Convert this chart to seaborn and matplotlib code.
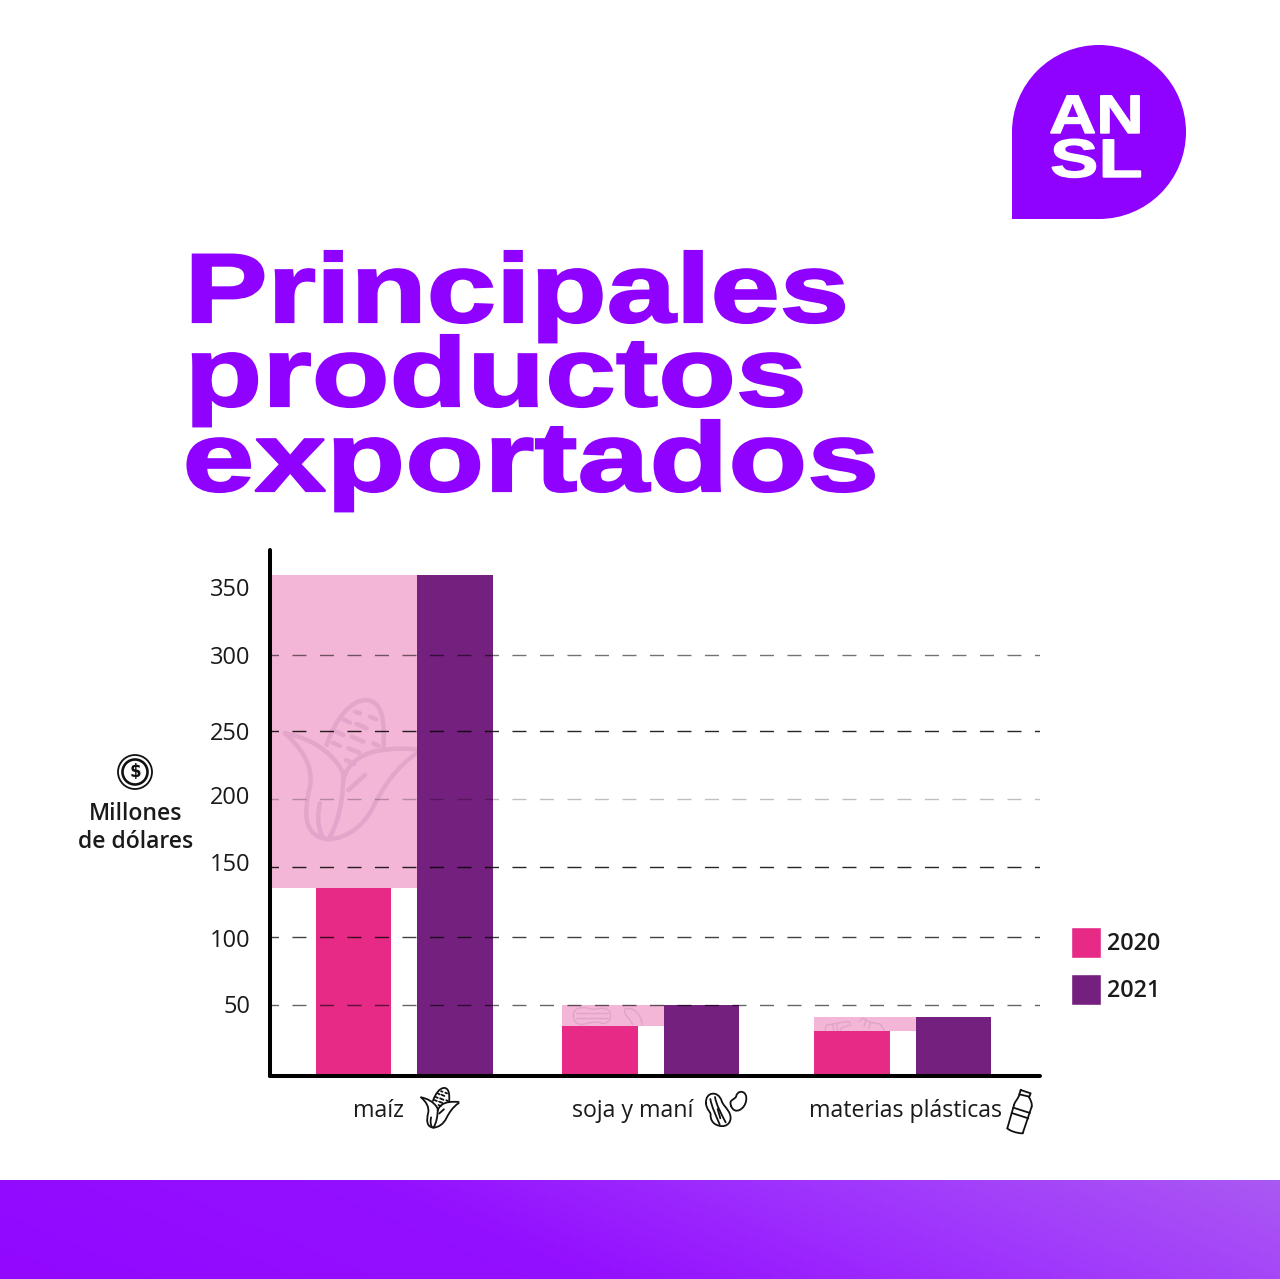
import matplotlib
matplotlib.use("Agg")
import matplotlib.pyplot as plt
import matplotlib.patheffects as pe
from matplotlib.colors import LinearSegmentedColormap
from matplotlib.patches import Circle, PathPatch, Rectangle
from matplotlib.path import Path
from matplotlib.transforms import Affine2D
import numpy as np
import pandas as pd
import seaborn as sns

categories = ["maíz", "soja y maní", "materias plásticas"]
values_2020 = [134, 35.6, 32]
values_2021 = [357, 50.6, 42]
years = ["2020", "2021"]
tick_values = [51.3, 98.5, 152.5, 200, 246, 300, 348.5]
tick_labels = ["50", "100", "150", "200", "250", "300", "350"]
grid_values = [50.7, 99, 149, 197.4, 246, 300]
grid_alpha = [0.6, 0.75, 0.85, 0.25, 0.85, 0.55]
title_lines = ["Principales", "productos", "exportados"]

PURPLE = "#8f02ff"
PINK = "#e62a86"
DARK = "#74207e"
LIGHT = "#f4b6d6"
MARK = "#e3a6ca"

sns.set_theme(style="white")
plt.rcParams["font.family"] = ["Open Sans", "DejaVu Sans"]


class Stretch(pe.AbstractPathEffect):
    # wide heavy letters: stretch the glyphs around the left edge of the line
    def __init__(self, x0, sx, bold=0.0):
        super().__init__()
        self.x0, self.sx, self.bold = x0, sx, bold

    def draw_path(self, renderer, gc, tpath, affine, rgbFace=None):
        tr = affine + Affine2D().translate(-self.x0, 0).scale(self.sx, 1).translate(self.x0, 0)
        gc0 = renderer.new_gc()
        gc0.copy_properties(gc)
        gc0.set_foreground(rgbFace)
        gc0.set_linewidth(self.bold)
        gc0.set_joinstyle("miter")
        renderer.draw_path(gc0, tpath, tr, rgbFace)
        gc0.restore()


def bez(*pts):
    codes = [Path.MOVETO] + [Path.CURVE4] * (len(pts) - 1)
    return Path(pts, codes)


def seg(*pts):
    return Path(pts, [Path.MOVETO] + [Path.LINETO] * (len(pts) - 1))


corn = [
    bez((200, 555), (225, 480), (270, 420), (320, 420), (370, 425), (375, 490), (370, 565)),
    bez((75, 520), (130, 530), (210, 560), (250, 640)),
    bez((75, 520), (130, 570), (160, 620), (150, 680), (130, 760), (130, 830), (205, 838)),
    bez((250, 640), (250, 720), (235, 790), (205, 838)),
    bez((180, 730), (170, 770), (175, 810), (190, 835)),
    bez((470, 568), (430, 565), (400, 565), (370, 570), (310, 575), (260, 610), (250, 660)),
    bez((470, 580), (410, 620), (370, 680), (340, 740), (310, 800), (260, 835), (205, 838)),
    seg((315, 645), (265, 690)),
    seg((285, 455), (300, 460)), seg((330, 470), (348, 478)), seg((250, 478), (270, 488)),
    seg((290, 492), (320, 505)), seg((228, 515), (250, 525)), seg((275, 530), (310, 545)),
    seg((340, 550), (355, 557)), seg((218, 548), (240, 558)), seg((265, 565), (298, 578)),
    seg((258, 600), (282, 612)),
]
peanut = [
    bez((33, 55), (30, 20), (70, 15), (80, 48), (84, 60), (92, 65), (100, 78),
        (118, 105), (98, 130), (72, 122), (52, 118), (45, 100), (47, 88),
        (45, 78), (35, 75), (33, 55)),
    bez((46, 42), (50, 65), (62, 90), (74, 118)),
    bez((60, 36), (64, 60), (78, 85), (92, 112)),
    seg((68, 72), (76, 100)),
]
bean = [
    bez((108, 62), (100, 42), (122, 45), (124, 32), (130, 12), (160, 18), (153, 48),
        (150, 72), (118, 92), (108, 62)),
]
bottle = [
    seg((62, 15), (92, 25), (88, 35), (58, 28), (62, 15)),
    bez((58, 28), (55, 42), (45, 48), (42, 60)),
    seg((42, 60), (22, 130)),
    bez((22, 130), (28, 137), (50, 145), (68, 145)),
    seg((68, 145), (95, 65)),
    bez((95, 65), (97, 55), (92, 45), (86, 35)),
    seg((40, 68), (90, 84)),
    seg((35, 84), (85, 100)),
]
soft_peanut = [
    bez((100, 108), (98, 85), (125, 78), (150, 86), (170, 92), (185, 78), (205, 90),
        (220, 105), (210, 135), (185, 130), (165, 122), (150, 128), (130, 133),
        (112, 135), (100, 125), (100, 108)),
    seg((108, 100), (205, 100)), seg((108, 113), (205, 113)),
    bez((255, 88), (275, 78), (305, 100), (306, 135)),
    bez((255, 88), (248, 105), (270, 112), (278, 135)),
]
soft_bottles = [
    seg((855, 155), (858, 136), (905, 127), (928, 125), (932, 135), (905, 143), (900, 155)),
    seg((878, 132), (882, 155)), seg((890, 130), (893, 152)),
    seg((958, 125), (968, 114), (990, 127), (1020, 132), (1034, 152)),
    seg((978, 120), (972, 140)), seg((992, 126), (986, 146)),
]


def draw_icon(target, strokes, scale, dx, dy, color, lw, zorder=5, clip=None):
    move = Affine2D().scale(scale).translate(dx, dy) + px
    for p in strokes:
        art = PathPatch(p, fill=False, ec=color, lw=lw, transform=move, zorder=zorder,
                        capstyle="round", joinstyle="round")
        target.add_patch(art)
        if clip is not None:
            art.set_clip_path(clip)


fig = plt.figure(figsize=(12.8, 12.79), dpi=100, facecolor="white")

# full page layer in pixel coordinates, for the logo, band and icons
ov = fig.add_axes([0, 0, 1, 1], zorder=0)
ov.set_xlim(0, 1280)
ov.set_ylim(1279, 0)
ov.axis("off")
px = ov.transData

ax = fig.add_axes([270 / 1280, 1 - 1076 / 1279, 770 / 1280, 526 / 1279], zorder=1)
ax.patch.set_alpha(0)

df = pd.DataFrame({
    "producto": categories * 2,
    "valor": values_2020 + values_2021,
    "anio": [years[0]] * 3 + [years[1]] * 3,
})
sns.barplot(data=df, x="producto", y="valor", hue="anio", order=categories,
            palette=[PINK, DARK], width=0.815, gap=0.256, saturation=1, ax=ax)

ax.set_xlim(-0.54, 2.552)
ax.set_ylim(0, 375)

for cont in ax.containers:
    cont[1].set_x(cont[1].get_x() - 0.012)
    for bar in cont:
        bar.set_zorder(2)
        bar.set_linewidth(0)

# pale block between the two years of each product
bands = []
for i in range(3):
    left = ax.containers[0][i].get_x()
    if i == 0:
        left = ax.get_xlim()[0]
    right = ax.containers[1][i].get_x()
    band = Rectangle((left, values_2020[i]), right - left, values_2021[i] - values_2020[i],
                     fc=LIGHT, ec="none", zorder=1)
    ax.add_patch(band)
    bands.append(band)

draw_icon(ax, corn, 1 / 3, 260, 560, MARK, 3.2, zorder=1.5)
draw_icon(ax, soft_peanut, 1 / 3, 540, 980, "#dfa5c9", 1.0, zorder=1.5, clip=bands[1])
draw_icon(ax, soft_bottles, 1 / 3, 540, 980, "#dfa5c9", 1.0, zorder=1.5, clip=bands[2])

for v, a in zip(grid_values, grid_alpha):
    ax.axhline(v, color="black", alpha=a, lw=1.0, ls=(4.0, (10.1, 9.7)), zorder=3)

ax.set_yticks(tick_values, tick_labels)
ax.set_xticks([-0.106, 0.916, 2.012], categories)
ax.tick_params(axis="y", length=0, pad=14, labelsize=17, labelcolor="#1a1a1a")
ax.tick_params(axis="x", length=0, pad=16.5, labelsize=16.7, labelcolor="#1a1a1a")
ax.set_xlabel("")
ax.set_ylabel("")
sns.despine(ax=ax)
for name in ["left", "bottom"]:
    ax.spines[name].set_color("black")
    ax.spines[name].set_linewidth(2.9)
    ax.spines[name].set_capstyle("round")
    ax.spines[name].set_zorder(4)

sns.move_legend(ax, "upper left", bbox_to_anchor=(1064 / 1280, 1 - 920 / 1279),
                bbox_transform=fig.transFigure, title=None, frameon=False,
                fontsize=16.8, handlelength=1.29, handleheight=1.64, labelspacing=0.72,
                handletextpad=0.25, borderpad=0.3, borderaxespad=0)
for t in ax.get_legend().get_texts():
    t.set_fontweight(600)
    t.set_color("#1a1a1a")

# bottom band
ramp = LinearSegmentedColormap.from_list(
    "band", [(0, "#9208ff"), (0.4, "#9410ff"), (0.7, "#a036fd"), (1, "#aa58f3")])
xx, yy = np.meshgrid(np.linspace(0, 1, 320), np.linspace(1, 0, 25))
ov.imshow(xx * 0.85 + yy * 0.15, cmap=ramp, vmin=0, vmax=1,
          extent=(0, 1280, 1279, 1180), aspect="auto", zorder=1)
ov.set_xlim(0, 1280)
ov.set_ylim(1279, 0)

# logo
ov.add_patch(Circle((1099, 132), 87, fc=PURPLE, ec="none"))
ov.add_patch(Rectangle((1012, 132), 87, 86.5, fc=PURPLE, ec="none"))
ov.text(1049, 133, "AN", color="white", family="Liberation Sans", weight="bold", size=39,
        path_effects=[Stretch(1049, 1.21, 1.0)])
ov.text(1050, 177, "SL", color="white", family="Liberation Sans", weight="bold", size=39,
        path_effects=[Stretch(1050, 1.34, 1.0)])

# title
for line, x0, base, sx in zip(title_lines, [184.5, 184.5, 182.5], [322, 406, 491], [1.272, 1.3, 1.32]):
    ov.text(x0, base, line, color=PURPLE, family="Liberation Sans", weight="bold", size=70.5,
            path_effects=[Stretch(x0, sx, 1.6)])

# y axis caption
ov.add_patch(Circle((135, 772), 17, fc="none", ec="#111111", lw=1.3))
ov.add_patch(Circle((135, 772), 12.5, fc="none", ec="#111111", lw=1.9))
ov.text(135, 772, "$", ha="center", va="center", size=12, weight="bold",
        family="DejaVu Sans", color="#111111")
ov.text(136, 814, "Millones", ha="center", va="center", size=16.6, weight=600, color="#1a1a1a")
ov.text(136, 842, "de dólares", ha="center", va="center", size=16.6, weight=600, color="#1a1a1a")

# product icons
draw_icon(ov, corn, 0.095, 414, 1048, "#111111", 1.3)
draw_icon(ov, peanut, 1 / 3, 695, 1085, "#111111", 1.3)
draw_icon(ov, bean, 1 / 3, 695, 1085, "#111111", 1.3)
draw_icon(ov, bottle, 1 / 3, 1000, 1085, "#111111", 1.3)

fig.savefig("out.png", dpi=100)
